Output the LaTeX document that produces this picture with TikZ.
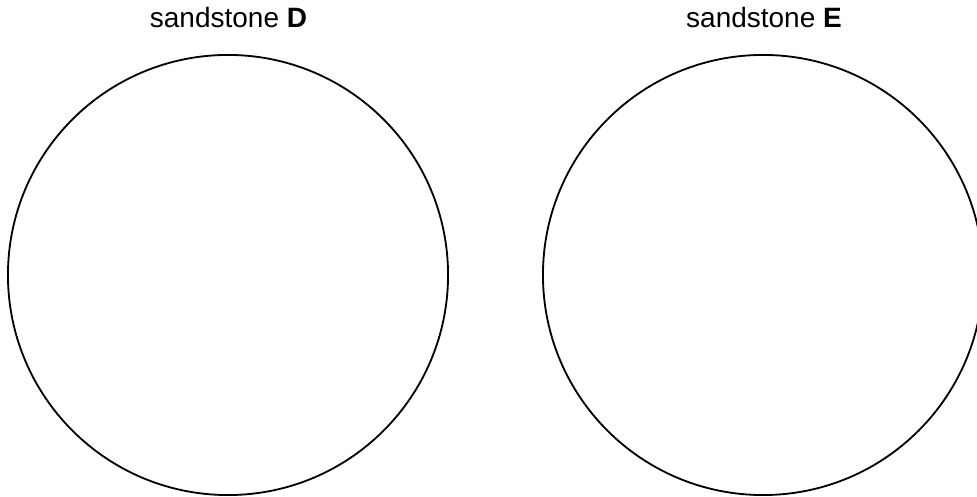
\documentclass[tikz,border=0pt]{standalone}
\usepackage{fontspec}
\setmainfont{Liberation Sans}
\begin{document}
\begin{tikzpicture}[
        x=0.025cm,
        y=0.025cm,
        sample/.style={
            circle,
            draw,
            line width=1.3pt,
            minimum size=11cm,
            inner sep=0pt
        },
        labelText/.style={
            anchor=base,
            font=\fontsize{19.9}{24}\selectfont
        }
    ]

        \clip (0,0) rectangle (977,497);

        \node[sample] (sandD) at (228,222) {};
        \node[sample] (sandE) at (763,222) {};

        \node[labelText] (labelD) at (228.5,469) {sandstone \textbf{D}};
        \node[labelText] (labelE) at (764,469) {sandstone \textbf{E}};

    \end{tikzpicture}
\end{document}
